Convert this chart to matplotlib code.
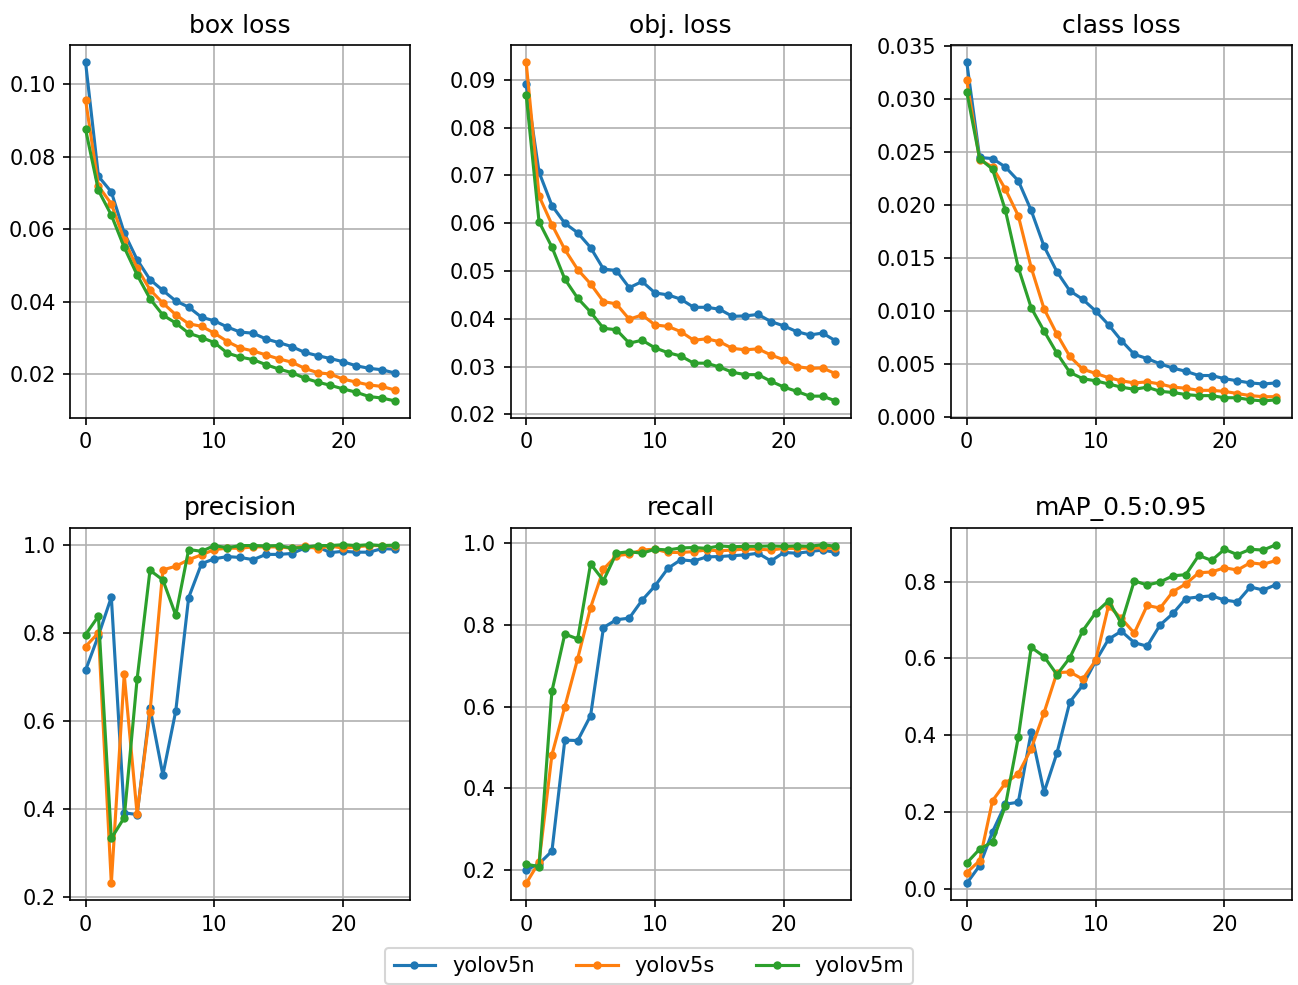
import numpy as np
import matplotlib
matplotlib.use("Agg")
import matplotlib.pyplot as plt

epochs = np.arange(25)
models = ["yolov5n", "yolov5s", "yolov5m"]
titles = ["box loss", "obj. loss", "class loss", "precision", "recall", "mAP_0.5:0.95"]

# box loss
box_n = [0.1061, 0.0746, 0.0703, 0.0590, 0.0516, 0.0461, 0.0431, 0.0402, 0.0385, 0.0357,
         0.0347, 0.0330, 0.0316, 0.0313, 0.0297, 0.0287, 0.0276, 0.0260, 0.0251, 0.0243,
         0.0234, 0.0223, 0.0216, 0.0212, 0.0203]
box_s = [0.0957, 0.0719, 0.0670, 0.0571, 0.0493, 0.0433, 0.0396, 0.0364, 0.0339, 0.0332,
         0.0313, 0.0290, 0.0272, 0.0264, 0.0253, 0.0242, 0.0233, 0.0216, 0.0204, 0.0200,
         0.0186, 0.0178, 0.0170, 0.0166, 0.0156]
box_m = [0.0876, 0.0707, 0.0639, 0.0550, 0.0474, 0.0408, 0.0363, 0.0341, 0.0313, 0.0301,
         0.0287, 0.0258, 0.0247, 0.0240, 0.0226, 0.0214, 0.0204, 0.0189, 0.0178, 0.0169,
         0.0159, 0.0150, 0.0138, 0.0134, 0.0126]

# objectness loss
obj_n = [0.0891, 0.0707, 0.0637, 0.0600, 0.0580, 0.0549, 0.0504, 0.0501, 0.0465, 0.0478,
         0.0454, 0.0450, 0.0441, 0.0424, 0.0424, 0.0420, 0.0405, 0.0406, 0.0409, 0.0394,
         0.0385, 0.0373, 0.0366, 0.0370, 0.0354]
obj_s = [0.0937, 0.0657, 0.0597, 0.0545, 0.0503, 0.0473, 0.0436, 0.0431, 0.0399, 0.0408,
         0.0387, 0.0384, 0.0373, 0.0355, 0.0358, 0.0352, 0.0338, 0.0335, 0.0337, 0.0324,
         0.0314, 0.0300, 0.0296, 0.0297, 0.0285]
obj_m = [0.0869, 0.0603, 0.0550, 0.0483, 0.0443, 0.0414, 0.0380, 0.0377, 0.0349, 0.0355,
         0.0339, 0.0329, 0.0322, 0.0307, 0.0307, 0.0299, 0.0288, 0.0283, 0.0283, 0.0269,
         0.0257, 0.0248, 0.0238, 0.0238, 0.0228]

# class loss
cls_n = [0.0335, 0.0245, 0.0244, 0.0236, 0.0223, 0.0195, 0.0161, 0.0137, 0.0119, 0.0111,
         0.0100, 0.0087, 0.0072, 0.0059, 0.0055, 0.0050, 0.0046, 0.0043, 0.0039, 0.0039,
         0.0036, 0.0034, 0.0032, 0.0031, 0.0032]
cls_s = [0.0318, 0.0243, 0.0236, 0.0215, 0.0190, 0.0141, 0.0102, 0.0078, 0.0057, 0.0045,
         0.0041, 0.0037, 0.0034, 0.0032, 0.0033, 0.0031, 0.0028, 0.0027, 0.0025, 0.0025,
         0.0024, 0.0022, 0.0020, 0.0019, 0.0019]
cls_m = [0.0307, 0.0244, 0.0234, 0.0195, 0.0141, 0.0103, 0.0081, 0.0060, 0.0042, 0.0036,
         0.0034, 0.0031, 0.0028, 0.0026, 0.0028, 0.0024, 0.0023, 0.0021, 0.0020, 0.0020,
         0.0018, 0.0018, 0.0016, 0.0015, 0.0016]

# precision
prec_n = [0.715, 0.794, 0.881, 0.392, 0.388, 0.630, 0.478, 0.623, 0.880, 0.957,
          0.968, 0.973, 0.971, 0.966, 0.978, 0.978, 0.980, 0.992, 0.995, 0.982,
          0.985, 0.983, 0.983, 0.991, 0.990]
prec_s = [0.769, 0.800, 0.232, 0.706, 0.389, 0.620, 0.943, 0.951, 0.966, 0.977,
          0.989, 0.992, 0.992, 0.995, 0.995, 0.995, 0.992, 0.997, 0.991, 0.997,
          0.992, 0.995, 0.998, 0.998, 0.997]
prec_m = [0.796, 0.838, 0.334, 0.381, 0.695, 0.942, 0.920, 0.840, 0.989, 0.985,
          0.998, 0.993, 0.998, 0.998, 0.997, 0.998, 0.992, 0.994, 0.998, 0.998,
          1.000, 0.998, 1.000, 0.998, 0.999]

# recall
rec_n = [0.200, 0.215, 0.246, 0.518, 0.517, 0.578, 0.794, 0.813, 0.817, 0.861,
         0.896, 0.939, 0.960, 0.957, 0.967, 0.968, 0.970, 0.972, 0.976, 0.957,
         0.978, 0.976, 0.980, 0.984, 0.978]
rec_s = [0.167, 0.219, 0.482, 0.600, 0.718, 0.843, 0.937, 0.970, 0.974, 0.984,
         0.986, 0.978, 0.978, 0.980, 0.984, 0.982, 0.984, 0.986, 0.986, 0.984,
         0.988, 0.988, 0.989, 0.989, 0.988]
rec_m = [0.214, 0.208, 0.638, 0.778, 0.766, 0.950, 0.909, 0.976, 0.980, 0.976,
         0.986, 0.984, 0.989, 0.990, 0.988, 0.994, 0.992, 0.993, 0.993, 0.994,
         0.993, 0.994, 0.993, 0.997, 0.993]

# mAP 0.5:0.95
map_n = [0.015, 0.061, 0.149, 0.221, 0.226, 0.408, 0.252, 0.354, 0.487, 0.530,
         0.593, 0.650, 0.671, 0.641, 0.632, 0.687, 0.717, 0.756, 0.760, 0.763,
         0.752, 0.747, 0.786, 0.778, 0.792]
map_s = [0.043, 0.074, 0.230, 0.276, 0.300, 0.365, 0.459, 0.563, 0.565, 0.546,
         0.595, 0.737, 0.704, 0.666, 0.738, 0.731, 0.774, 0.794, 0.823, 0.825,
         0.836, 0.830, 0.849, 0.845, 0.855]
map_m = [0.068, 0.104, 0.123, 0.217, 0.395, 0.629, 0.605, 0.558, 0.602, 0.672,
         0.719, 0.750, 0.692, 0.802, 0.791, 0.799, 0.815, 0.818, 0.868, 0.855,
         0.884, 0.870, 0.884, 0.882, 0.896]

metrics = [
    (box_n, box_s, box_m),
    (obj_n, obj_s, obj_m),
    (cls_n, cls_s, cls_m),
    (prec_n, prec_s, prec_m),
    (rec_n, rec_s, rec_m),
    (map_n, map_s, map_m),
]

DPI = 150
fig, axes = plt.subplots(2, 3, figsize=(1298 / DPI, 985 / DPI), dpi=DPI)

for ax, title, series in zip(axes.flat, titles, metrics):
    for name, vals in zip(models, series):
        ax.plot(epochs, vals, marker=".", label=name)
    ax.set_title(title)
    ax.grid(True)

handles, labels = axes[0, 0].get_legend_handles_labels()
fig.legend(handles, labels, loc="lower center", ncol=3, bbox_to_anchor=(0.5, -0.01))

plt.subplots_adjust(left=0.054, right=0.995, top=0.954, bottom=0.086,
                    wspace=0.295, hspace=0.295)

plt.savefig("out.png", dpi=DPI)
